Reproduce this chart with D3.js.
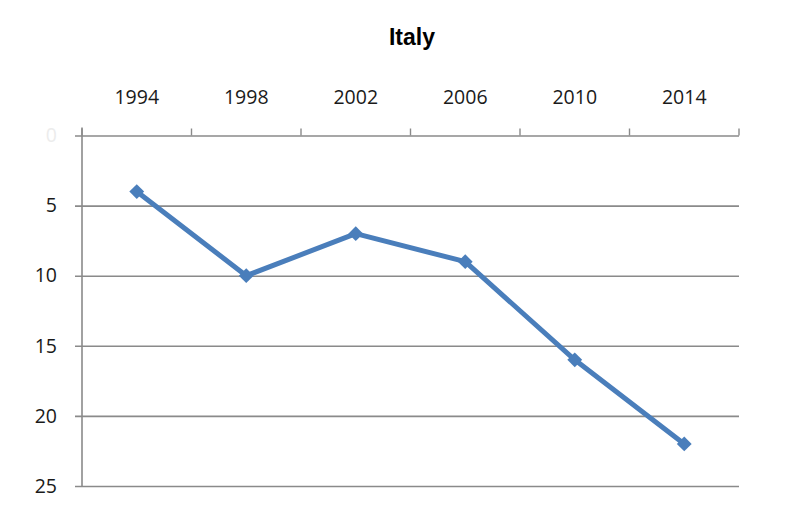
<!DOCTYPE html>
<html><head><meta charset="utf-8">
<script src="https://cdn.jsdelivr.net/npm/d3@7"></script>
<style>body{margin:0;background:#fff}</style>
</head><body>
<svg id="c" width="789" height="524"></svg>
<script>
const categories = ["1994","1998","2002","2006","2010","2014"];
const values = [4,10,7,9,16,22];
const yTicks = [0,5,10,15,20,25];

const svg = d3.select("#c");
const L=82, R=739, T=135.5, B=486;
const x = d3.scaleBand().domain(categories).range([L,R]).padding(0);
const y = d3.scaleLinear().domain([0,25]).range([T,B]);
const grid="#8a8a8a";

// title
svg.append("text").attr("x",412).attr("y",45).attr("text-anchor","middle")
  .attr("font-family","Liberation Sans, Arial, sans-serif").attr("font-weight","bold")
  .attr("font-size",23).attr("fill","#000").text("Italy");

// y axis with gridlines
const yg = svg.append("g").attr("transform",`translate(${L},0)`)
  .call(d3.axisLeft(y).tickValues(yTicks).tickSize(-(R-L)).tickPadding(25));
yg.select(".domain").remove();
yg.selectAll(".tick line").attr("x1",-7).attr("stroke",grid).attr("stroke-width",1.6);
yg.selectAll(".tick text").attr("font-family","Open Sans, sans-serif").attr("font-size",19.5)
  .attr("fill",d=>d===0?"#ececec":"#1a1a1a");
// left axis line
svg.append("line").attr("x1",L).attr("x2",L).attr("y1",T-8).attr("y2",B)
  .attr("stroke",grid).attr("stroke-width",1.6);

// top axis
const xg = svg.append("g").attr("transform",`translate(0,${T})`)
  .call(d3.axisTop(x).tickSize(0).tickPadding(32));
xg.select(".domain").remove();
xg.selectAll(".tick text").attr("font-family","Open Sans, sans-serif").attr("font-size",19.5).attr("fill","#1a1a1a");
const edges = categories.map(c=>x(c)).concat([x(categories[categories.length-1])+x.bandwidth()]);
svg.append("g").selectAll("line").data(edges).join("line")
  .attr("x1",d=>d).attr("x2",d=>d).attr("y1",T-7).attr("y2",T)
  .attr("stroke",grid).attr("stroke-width",1.4);

// line
const cx = c=>x(c)+x.bandwidth()/2;
svg.append("path").datum(values.map((v,i)=>[cx(categories[i]),y(v)]))
  .attr("d",d3.line()).attr("fill","none").attr("stroke","#4a7ebb")
  .attr("stroke-width",5).attr("stroke-linejoin","round");
svg.append("g").selectAll("path").data(values).join("path")
  .attr("d",d3.symbol(d3.symbolSquare,110))
  .attr("transform",(v,i)=>`translate(${cx(categories[i])},${y(v)}) rotate(45)`)
  .attr("fill","#4a7ebb");
</script>
</body></html>
